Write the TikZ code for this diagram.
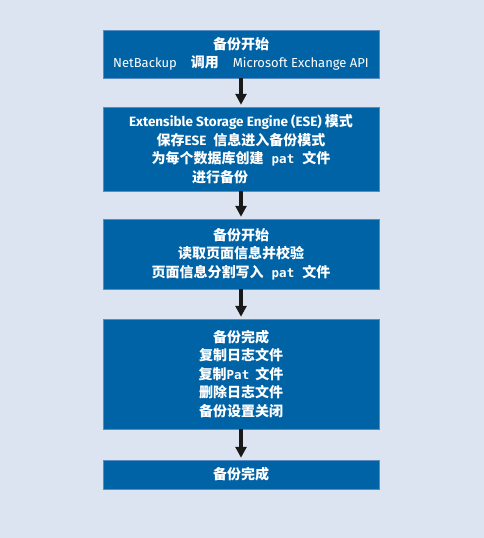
\documentclass[tikz,border=0pt]{standalone}
\usepackage{fontspec}
\setmainfont{Fira Sans}
\setmonofont{DejaVu Sans Mono}
\newfontfamily\cjk{Noto Sans CJK SC}
\usetikzlibrary{arrows.meta}

\definecolor{bgblue}{RGB}{220,228,242}
\definecolor{boxblue}{RGB}{0,99,166}
\definecolor{boxedge}{RGB}{90,140,195}
\newcommand{\lat}[1]{{\rmfamily\mdseries\fontsize{13}{13}\selectfont #1}}
\newcommand{\latb}[1]{{\rmfamily\bfseries\fontsize{13.5}{13}\selectfont #1}}
\newcommand{\fn}[1]{{\ttfamily\bfseries\fontsize{12.5}{12}\selectfont #1}}

\tikzset{
  stagebox/.style={fill=boxblue, draw=boxedge, line width=0.5pt,
    minimum width=276pt, text=white, align=center, inner sep=0pt,
    font=\cjk\bfseries\fontsize{14}{18.5}\selectfont},
  flowarrow/.style={draw=black!90, line width=3.2pt,
    -{Triangle[width=11pt,length=11pt]}, shorten >=2pt}
}

\begin{document}
\begin{tikzpicture}[x=1pt, y=-1pt]

    \fill[bgblue] (0,0) rectangle (484,538);
    \useasboundingbox (0,0) rectangle (484,538);

    \node[stagebox, minimum height=48pt] (start) at (241,54)
      {备份开始\\
       \lat{NetBackup}\hspace{14pt}调用\hspace{14pt}\lat{Microsoft Exchange API}};

    \node[stagebox, minimum height=84pt] (ese) at (241,149)
      {\latb{Extensible Storage Engine (ESE)}\ 模式\\
       保存\latb{ESE}\hspace{7pt}信息进入备份模式\hspace*{14pt}\\
       为每个数据库创建\hspace{8pt}\fn{pat}\hspace{8pt}文件\hspace*{14pt}\\
       进行备份\hspace*{42pt}};

    \node[stagebox, minimum height=70pt] (read) at (241,254)
      {备份开始\\
       读取页面信息并校验\\
       页面信息分割写入\hspace{8pt}\fn{pat}\hspace{8pt}文件};

    \node[stagebox, minimum height=110pt] (done) at (241,374)
      {备份完成\\
       复制日志文件\\
       复制\fn{Pat}\hspace{6pt}文件\\
       删除日志文件\\
       备份设置关闭};

    \node[stagebox, minimum height=29pt] (finish) at (241,474.5)
      {备份完成};

    \draw[flowarrow] (start.south) -- (ese.north);
    \draw[flowarrow] (ese.south) -- (read.north);
    \draw[flowarrow] (read.south) -- (done.north);
    \draw[flowarrow] (done.south) -- (finish.north);

\end{tikzpicture}
\end{document}
